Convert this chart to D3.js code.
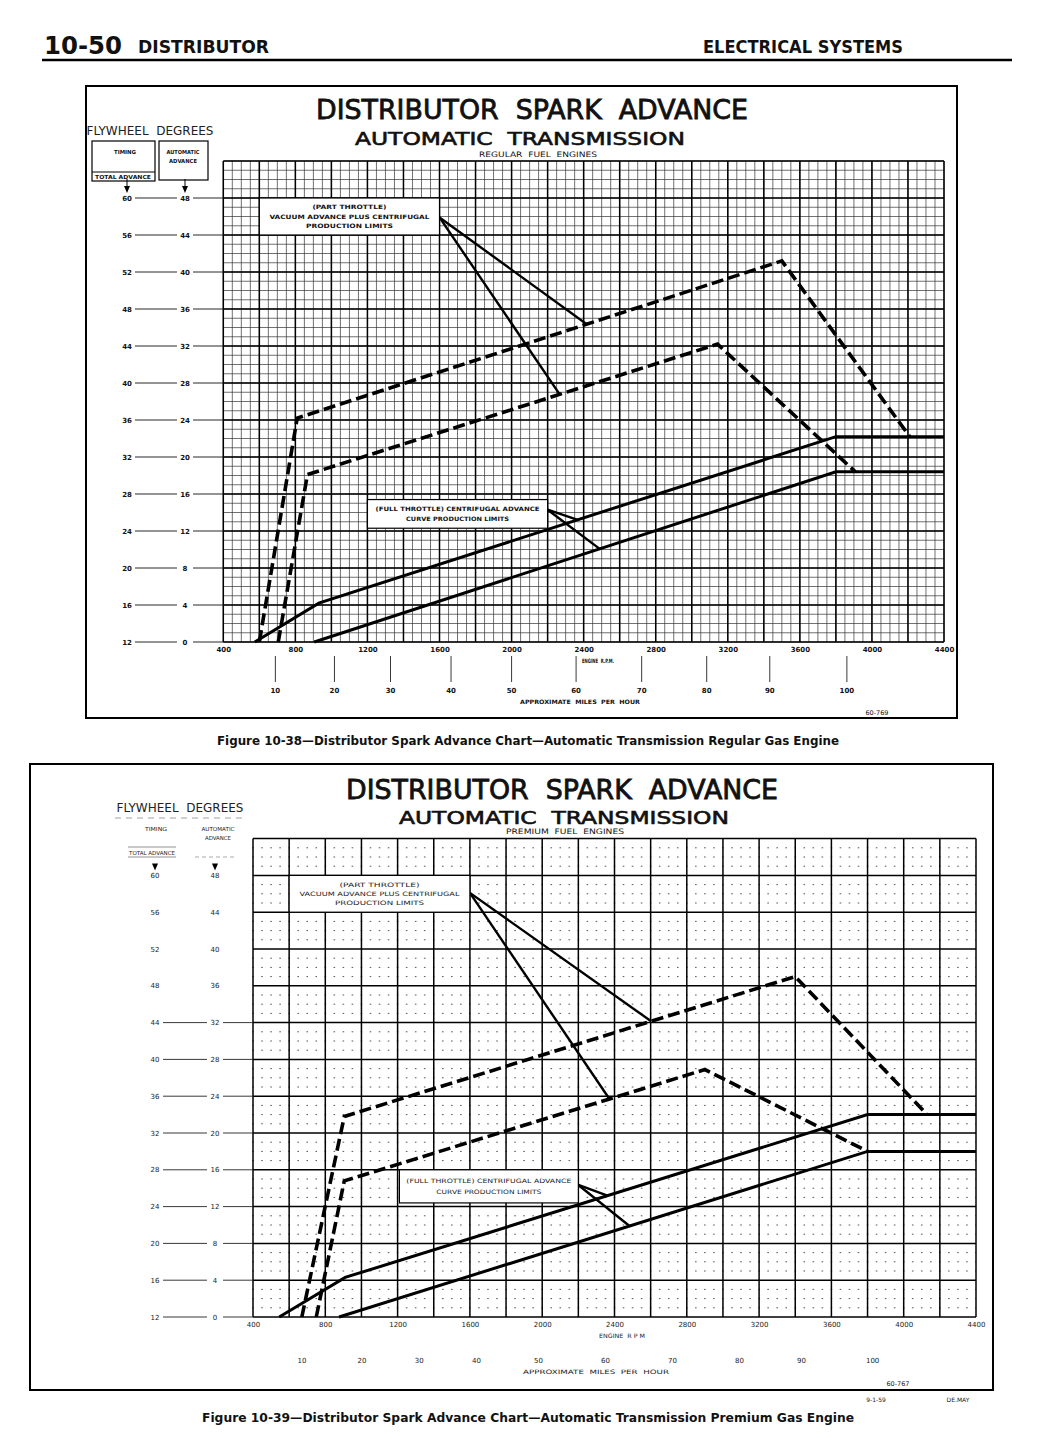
<!DOCTYPE html>
<html lang="en">
<head>
<meta charset="utf-8" />
<title>Distributor Spark Advance</title>
<script src="https://d3js.org/d3.v7.min.js"></script>
<style>
  body { margin: 0; background: #fff; }
  svg text { font-family: "DejaVu Sans", sans-serif; fill: #111; }
</style>
</head>
<body>
<script>
// ---- data ----
const rpmTicks    = [400, 800, 1200, 1600, 2000, 2400, 2800, 3200, 3600, 4000, 4400];
const timingTicks = [60, 56, 52, 48, 44, 40, 36, 32, 28, 24, 20, 16, 12];
const autoTicks   = [48, 44, 40, 36, 32, 28, 24, 20, 16, 12, 8, 4, 0];
const mphTicks    = [10, 20, 30, 40, 50, 60, 70, 80, 90, 100];
const mphRpmRegular = [689, 1017, 1328, 1664, 2000, 2358, 2722, 3083, 3433, 3861];
const mphRpmPremium = [671, 1003, 1320, 1636, 1979, 2350, 2721, 3092, 3435, 3828];

// curves as [engine rpm, timing degrees]
const regVacHigh  = [[600, 12], [810, 36.2], [3500, 53.2], [4210, 34.2]];
const regVacLow   = [[705, 12], [867, 30.1], [3143, 44.2], [3908, 30.4]];
const regFullHigh = [[575, 12], [930, 16.2], [3800, 34.2], [4400, 34.2]];
const regFullLow  = [[905, 12], [3800, 30.4], [4400, 30.4]];

const premVacHigh  = [[670, 12], [905, 33.8], [3400, 49], [4130, 34]];
const premVacLow   = [[750, 12], [905, 26.8], [2900, 38.9], [3800, 30]];
const premFullHigh = [[545, 12], [910, 16.3], [3800, 34], [4400, 34]];
const premFullLow  = [[876, 12], [3800, 30], [4400, 30]];

// annotation boxes [rpm0, rpm1, deg0, deg1] and the rpm where each leader meets its curve
const regPartBox  = [600, 1600, 56, 60];
const regFullBox  = [1200, 2200, 24.3, 27.4];
const premPartBox = [600, 1600, 56, 60];
const premFullBox = [1210, 2200, 24.4, 28];
const regPartHits  = [2417, 2267];
const regFullHits  = [2367, 2489];
const premPartHits = [2603, 2372];
const premFullHits = [2361, 2483];

const partText = ["(PART THROTTLE)", "VACUUM ADVANCE PLUS CENTRIFUGAL", "PRODUCTION LIMITS"];
const fullText = ["(FULL THROTTLE) CENTRIFUGAL ADVANCE", "CURVE PRODUCTION LIMITS"];

// ---- page ----
const svg = d3.select("body").append("svg")
  .attr("width", 1056).attr("height", 1452);

function degAt(curve, rpm) {
  for (let i = 0; i < curve.length - 1; i++) {
    const a = curve[i], b = curve[i + 1];
    if (rpm >= a[0] && rpm <= b[0]) return a[1] + (b[1] - a[1]) * (rpm - a[0]) / (b[0] - a[0]);
  }
  return curve[curve.length - 1][1];
}

function txt(g, s, x, y, size, opts = {}) {
  const t = g.append("text").attr("x", x).attr("y", y).attr("font-size", size)
    .attr("text-anchor", opts.anchor || "middle").text(s);
  if (opts.bold) t.attr("font-weight", "bold");
  if (opts.len) t.attr("textLength", opts.len).attr("lengthAdjust", "spacingAndGlyphs");
  if (opts.fill) t.style("fill", opts.fill);
  return t;
}

// header
txt(svg, "10-50", 44, 54, 25, {anchor: "start", bold: true, len: 78});
txt(svg, "DISTRIBUTOR", 138, 53, 18, {anchor: "start", bold: true, len: 131});
txt(svg, "ELECTRICAL SYSTEMS", 903, 53, 18, {anchor: "end", bold: true, len: 200});
svg.append("line").attr("x1", 42).attr("x2", 1012).attr("y1", 60).attr("y2", 60)
  .attr("stroke", "#000").attr("stroke-width", 2.5);

function drawChart(o) {
  const g = svg.append("g");
  const x = d3.scaleLinear().domain([400, 4400]).range(o.xr);
  const y = d3.scaleLinear().domain([12, 64]).range(o.yr);

  // frame of figure
  g.append("rect").attr("x", o.box[0]).attr("y", o.box[1])
    .attr("width", o.box[2] - o.box[0]).attr("height", o.box[3] - o.box[1])
    .attr("fill", "none").attr("stroke", "#000").attr("stroke-width", 2);

  // titles (regular face thickened with a stroke, reads like the medium drafting letters)
  txt(g, "DISTRIBUTOR  SPARK  ADVANCE", o.titleX, o.titleY, 26, {len: 432}).style("white-space", "pre")
    .style("stroke", "#111").style("stroke-width", 0.8);
  txt(g, "AUTOMATIC  TRANSMISSION", o.subX, o.titleY + o.subDy, 17, {len: 330}).style("white-space", "pre")
    .style("stroke", "#111").style("stroke-width", 0.6);
  txt(g, o.fuel, o.fuelX, o.titleY + o.fuelDy, 7.5, {len: 118}).style("white-space", "pre");

  // grid
  const grid = g.append("g");
  const minorDeg = d3.range(12, 64.01, 1);
  const minorRpm = d3.range(400, 4400.1, 50);
  if (o.solidMinor) {
    grid.selectAll(".mv").data(minorRpm).join("line")
      .attr("x1", d => x(d)).attr("x2", d => x(d)).attr("y1", y(12)).attr("y2", y(64))
      .attr("stroke", "#333").attr("stroke-width", 0.7);
    grid.selectAll(".mh").data(minorDeg).join("line")
      .attr("x1", x(400)).attr("x2", x(4400)).attr("y1", d => y(d)).attr("y2", d => y(d))
      .attr("stroke", "#333").attr("stroke-width", 0.7);
  } else {
    const step = x(450) - x(400);
    grid.selectAll(".mh").data(minorDeg.filter(d => (d - 12) % 4 !== 0)).join("line")
      .attr("x1", x(400) - 0.8).attr("x2", x(4400)).attr("y1", d => y(d)).attr("y2", d => y(d))
      .attr("stroke", "#444").attr("stroke-width", 0.9)
      .attr("stroke-dasharray", `1.6 ${step - 1.6}`);
  }
  grid.selectAll(".bv").data(d3.range(400, 4400.1, 200)).join("line")
    .attr("x1", d => x(d)).attr("x2", d => x(d)).attr("y1", y(12)).attr("y2", y(64))
    .attr("stroke", "#000").attr("stroke-width", 1.5);
  grid.selectAll(".bh").data(d3.range(12, 64.01, 4)).join("line")
    .attr("x1", x(400)).attr("x2", x(4400)).attr("y1", d => y(d)).attr("y2", d => y(d))
    .attr("stroke", "#000").attr("stroke-width", 1.5);

  // x axis labels
  const ax = g.append("g").attr("transform", `translate(0,${y(12) + 1})`)
    .call(d3.axisBottom(x).tickValues(rpmTicks).tickSize(0).tickPadding(4).tickFormat(d3.format("d")));
  ax.select(".domain").remove();
  ax.selectAll("text").attr("font-size", 7).attr("font-weight", o.bold ? "bold" : "normal")
    .style("fill", o.ink).style("font-family", "DejaVu Sans");

  // engine rpm + mph
  txt(g, o.rpmLabel, o.rpmLabelX, y(12) + 21, 6, {bold: o.bold, fill: o.ink, len: o.rpmLabelLen}).style("white-space", "pre");
  mphTicks.forEach((m, i) => {
    const px = x(o.mphRpm[i]);
    if (o.mphLines) {
      g.append("line").attr("x1", px).attr("x2", px).attr("y1", y(12) + 14).attr("y2", y(12) + 40)
        .attr("stroke", "#222").attr("stroke-width", 0.9);
    }
    txt(g, m, px, o.mphY, 7, {bold: o.bold, fill: o.ink});
  });
  txt(g, "APPROXIMATE  MILES  PER  HOUR", o.mphTitleX, o.mphY + 11, 6, {bold: o.bold, fill: o.ink, len: o.mphTitleLen})
    .style("white-space", "pre");

  // left scales
  txt(g, "FLYWHEEL  DEGREES", o.flyX, o.flyY, 12.5, {len: 127, fill: "#222"}).style("white-space", "pre");
  timingTicks.forEach((t, i) => {
    const py = y(t);
    txt(g, t, o.timX, py + 2.5, 7, {bold: o.bold, fill: o.ink});
    txt(g, autoTicks[i], o.autX, py + 2.5, 7, {bold: o.bold, fill: o.ink});
    if (o.rowRule(t)) {
      g.append("line").attr("x1", o.timX + 8).attr("x2", o.autX - 8).attr("y1", py).attr("y2", py)
        .attr("stroke", o.ink).attr("stroke-width", 0.9);
      g.append("line").attr("x1", o.autX + 8).attr("x2", x(400)).attr("y1", py).attr("y2", py)
        .attr("stroke", o.ink).attr("stroke-width", 0.9);
    }
  });
  // arrows
  [o.timX, o.autX].forEach(ax0 => {
    const top = y(60) - 12;
    g.append("path").attr("d", `M${ax0 - 3},${top} L${ax0 + 3},${top} L${ax0},${top + 7} Z`).attr("fill", "#000");
    g.append("line").attr("x1", ax0).attr("x2", ax0).attr("y1", top - o.stem).attr("y2", top)
      .attr("stroke", "#000").attr("stroke-width", 1);
  });
  o.legendHead(g);

  // curves
  const line = d3.line().x(d => x(d[0])).y(d => y(d[1]));
  o.dashed.forEach(c => g.append("path").datum(c).attr("d", line).attr("fill", "none")
    .attr("stroke", "#000").attr("stroke-width", 3.6).attr("stroke-dasharray", "12 5"));
  o.solid.forEach(c => g.append("path").datum(c).attr("d", line).attr("fill", "none")
    .attr("stroke", "#000").attr("stroke-width", 3));

  // annotation boxes + leaders
  o.notes.forEach(n => {
    const [r0, r1, d0, d1] = n.box;
    const from = [x(r1), y(n.fromDeg)];
    n.hits.forEach((h, k) => {
      const c = n.curves[k];
      g.append("line").attr("x1", from[0]).attr("y1", from[1])
        .attr("x2", x(h)).attr("y2", y(degAt(c, h)))
        .attr("stroke", "#000").attr("stroke-width", 2.4);
    });
    g.append("rect").attr("x", x(r0)).attr("y", y(d1)).attr("width", x(r1) - x(r0))
      .attr("height", y(d0) - y(d1)).attr("fill", "#fff").attr("stroke", "#000").attr("stroke-width", 1.2);
    const cx = (x(r0) + x(r1)) / 2;
    const h = y(d0) - y(d1);
    n.text.forEach((s, k) => {
      const ty = y(d1) + h * (k + 1) / (n.text.length + 1) + 2.2;
      txt(g, s, cx, ty, 6, {bold: o.bold, fill: o.ink, len: n.lens[k]});
    });
  });

  // chart code
  txt(g, o.code, o.codeX, o.codeY, 6.5, {fill: o.ink});
  txt(g, o.caption, 528, o.capY, 11.5, {bold: true, len: o.capLen});
}

// figure 10-38 (regular fuel)
drawChart({
  xr: [223.3, 944], yr: [642, 161], box: [86, 86, 957, 718],
  titleX: 532, titleY: 119, subDy: 26, fuelDy: 38, subX: 520, fuel: "REGULAR  FUEL  ENGINES", fuelX: 538,
  solidMinor: true, bold: true, ink: "#111",
  rpmLabel: "ENGINE  R.P.M.", rpmLabelX: 598, rpmLabelLen: 32,
  mphRpm: mphRpmRegular, mphLines: true, mphY: 693, mphTitleX: 580, mphTitleLen: 120,
  flyX: 150, flyY: 135, timX: 127, autX: 185, stem: 7,
  rowRule: t => true,
  legendHead: g => {
    g.append("rect").attr("x", 92).attr("y", 141).attr("width", 63).attr("height", 40)
      .attr("fill", "none").attr("stroke", "#000").attr("stroke-width", 1.2);
    g.append("line").attr("x1", 92).attr("x2", 155).attr("y1", 172).attr("y2", 172)
      .attr("stroke", "#000").attr("stroke-width", 1);
    g.append("rect").attr("x", 159).attr("y", 141).attr("width", 49).attr("height", 39)
      .attr("fill", "none").attr("stroke", "#000").attr("stroke-width", 1.2);
    txt(g, "TIMING", 125, 154, 5.5, {bold: true, len: 22});
    txt(g, "TOTAL ADVANCE", 123, 179, 5.5, {bold: true, len: 56});
    txt(g, "AUTOMATIC", 183, 154, 5.5, {bold: true, len: 33});
    txt(g, "ADVANCE", 183, 163, 5.5, {bold: true, len: 28});
  },
  dashed: [regVacHigh, regVacLow], solid: [regFullHigh, regFullLow],
  notes: [
    {box: regPartBox, fromDeg: 57.9, hits: regPartHits, curves: [regVacHigh, regVacLow], text: partText, lens: [74, 160, 87]},
    {box: regFullBox, fromDeg: 26.3, hits: regFullHits, curves: [regFullHigh, regFullLow], text: fullText, lens: [164, 103]}
  ],
  code: "60-769", codeX: 877, codeY: 715,
  caption: "Figure 10-38—Distributor Spark Advance Chart—Automatic Transmission Regular Gas Engine",
  capY: 745, capLen: 622
});

// figure 10-39 (premium fuel)
drawChart({
  xr: [253, 976], yr: [1317, 838.6], box: [30, 764, 993, 1390],
  titleX: 562, titleY: 799, subDy: 25, fuelDy: 35, subX: 564, fuel: "PREMIUM  FUEL  ENGINES", fuelX: 565,
  solidMinor: false, bold: false, ink: "#222",
  rpmLabel: "ENGINE  R P M", rpmLabelX: 622, rpmLabelLen: 46,
  mphRpm: mphRpmPremium, mphLines: false, mphY: 1363, mphTitleX: 596, mphTitleLen: 146,
  flyX: 180, flyY: 812, timX: 155, autX: 215, stem: 0,
  rowRule: t => t <= 44,
  legendHead: g => {
    g.append("line").attr("x1", 115).attr("x2", 244).attr("y1", 818).attr("y2", 818)
      .attr("stroke", "#888").attr("stroke-width", 0.8).attr("stroke-dasharray", "6 5");
    txt(g, "TIMING", 156, 831, 5.5, {len: 22, fill: "#222"});
    txt(g, "AUTOMATIC", 218, 831, 5.5, {len: 33, fill: "#222"});
    txt(g, "ADVANCE", 218, 840, 5.5, {len: 26, fill: "#222"});
    g.append("line").attr("x1", 128).attr("x2", 176).attr("y1", 847).attr("y2", 847)
      .attr("stroke", "#666").attr("stroke-width", 0.7);
    txt(g, "TOTAL ADVANCE", 152, 855, 5.5, {len: 46, fill: "#222"});
    g.append("line").attr("x1", 128).attr("x2", 176).attr("y1", 857).attr("y2", 857)
      .attr("stroke", "#666").attr("stroke-width", 0.7);
    g.append("line").attr("x1", 195).attr("x2", 236).attr("y1", 857).attr("y2", 857)
      .attr("stroke", "#888").attr("stroke-width", 0.7).attr("stroke-dasharray", "4 3");
  },
  dashed: [premVacHigh, premVacLow], solid: [premFullHigh, premFullLow],
  notes: [
    {box: premPartBox, fromDeg: 58.1, hits: premPartHits, curves: [premVacHigh, premVacLow], text: partText, lens: [80, 160, 89]},
    {box: premFullBox, fromDeg: 26.35, hits: premFullHits, curves: [premFullHigh, premFullLow], text: fullText, lens: [165, 105]}
  ],
  code: "60-767", codeX: 898, codeY: 1386,
  caption: "Figure 10-39—Distributor Spark Advance Chart—Automatic Transmission Premium Gas Engine",
  capY: 1422, capLen: 652
});

// drafting marks under figure 10-39
txt(svg, "9-1-59", 876, 1402, 6, {fill: "#222"});
txt(svg, "DE.MAY", 958, 1402, 6, {fill: "#222"});
</script>
</body>
</html>
